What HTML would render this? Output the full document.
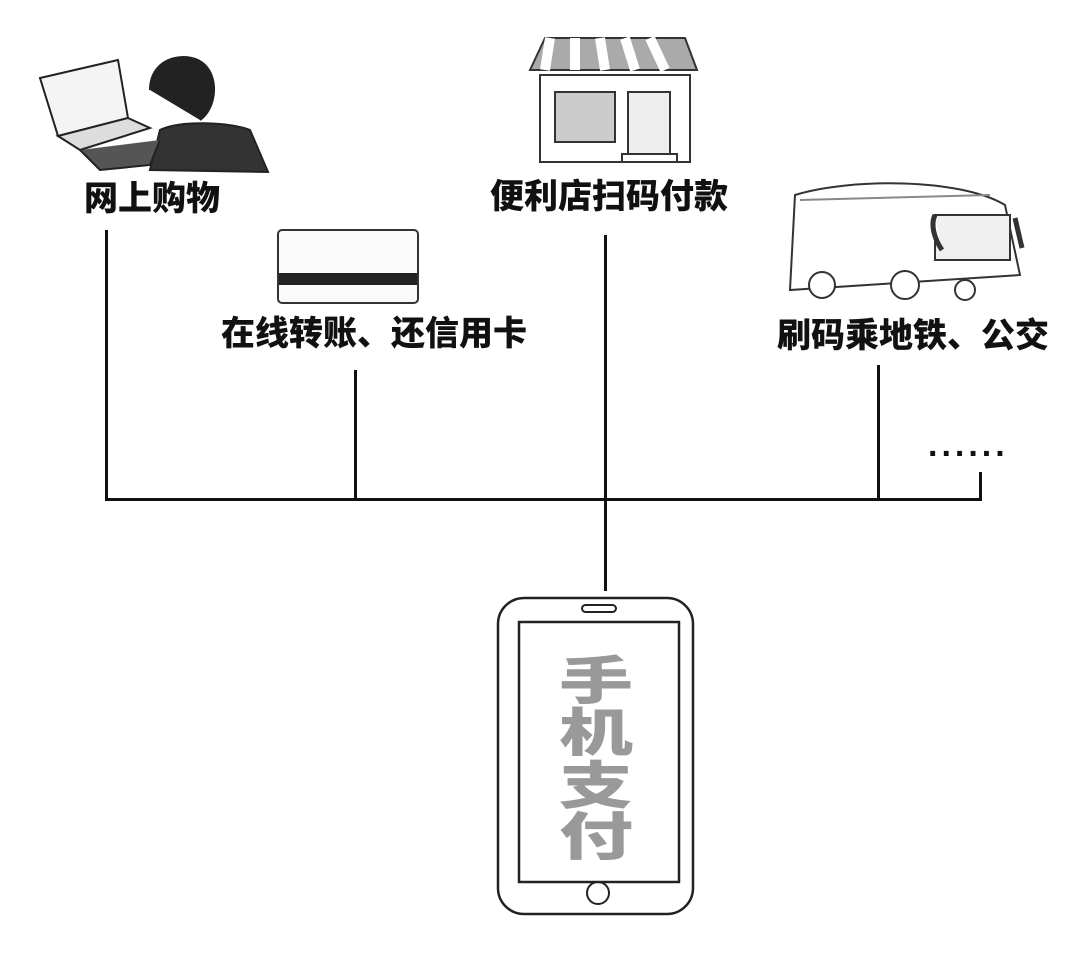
<!DOCTYPE html>
<html><head><meta charset="utf-8"><style>
body{margin:0;background:#fff;width:1080px;height:960px;position:relative;overflow:hidden;font-family:"Liberation Sans","Noto Sans CJK SC",sans-serif}
.l{position:absolute;font-weight:900;font-size:34px;color:#111;white-space:nowrap;line-height:1}
.v{position:absolute;background:#111;width:3px}
.c{position:absolute;left:558px;width:76px;height:72px;font-size:74px;font-weight:900;color:#999;line-height:72px;text-align:center;transform:scaleY(0.7);transform-origin:top;font-family:'Noto Sans CJK SC',sans-serif}
</style></head><body>
<svg width="1080" height="960" style="position:absolute;left:0;top:0">
<g stroke="#222" stroke-width="2" fill="none">
<polygon points="40,78 118,60 128,118 58,136" fill="#f4f4f4"/>
<polygon points="58,136 128,118 150,128 80,150" fill="#ddd"/>
<path d="M150,90 C150,55 190,50 205,65 C220,80 215,110 200,120" fill="#222"/>
<path d="M150,170 L160,130 C180,120 230,122 250,130 L268,172 Z" fill="#333"/>
<path d="M80,150 L100,170 L150,165 L160,140" fill="#555"/>
</g>
<rect x="278" y="230" width="140" height="73" rx="4" fill="#fafafa" stroke="#333" stroke-width="2"/>
<rect x="279" y="273" width="138" height="12" fill="#222"/>
<g stroke="#333" stroke-width="2">
<rect x="540" y="75" width="150" height="87" fill="#fff"/>
<path d="M530,70 L545,38 L685,38 L697,70 Z" fill="#aaa"/>
<path d="M550,38 L545,70 M575,38 L575,70 M600,38 L605,70 M625,38 L635,70 M650,38 L665,70" stroke="#fff" stroke-width="10"/>
<rect x="555" y="92" width="60" height="50" fill="#ccc"/>
<rect x="628" y="92" width="42" height="62" fill="#eee"/>
<rect x="622" y="154" width="55" height="8" fill="#fff"/>
</g>
<g stroke="#333" stroke-width="2" fill="#fff">
<path d="M795,195 C850,178 960,178 1005,205 L1020,275 L790,290 Z"/>
<path d="M800,200 L990,195" stroke="#888"/>
<rect x="935" y="215" width="75" height="45" fill="#f0f0f0"/>
<circle cx="822" cy="285" r="13"/><circle cx="905" cy="285" r="14"/><circle cx="965" cy="290" r="10"/>
<path d="M935,215 C930,225 935,240 942,250" stroke-width="5"/>
<path d="M1015,218 L1022,248" stroke-width="5"/>
</g>
<rect x="105" y="498" width="877" height="3" fill="#111"/>
<rect x="498" y="598" width="195" height="316" rx="26" fill="#fff" stroke="#222" stroke-width="2.5"/>
<rect x="519" y="622" width="160" height="260" fill="#fff" stroke="#222" stroke-width="2.5"/>
<rect x="582" y="605" width="34" height="7" rx="3.5" fill="none" stroke="#222" stroke-width="2"/>
<circle cx="598" cy="893" r="11" fill="none" stroke="#222" stroke-width="2"/>
</svg>
<div class="v" style="left:105px;top:230px;height:271px"></div>
<div class="v" style="left:354px;top:370px;height:131px"></div>
<div class="v" style="left:604px;top:235px;height:356px"></div>
<div class="v" style="left:877px;top:365px;height:136px"></div>
<div class="v" style="left:979px;top:472px;height:29px"></div>
<div class="l" style="left:84px;top:182px">网上购物</div>
<div class="l" style="left:221px;top:317px">在线转账、还信用卡</div>
<div class="l" style="left:490px;top:180px">便利店扫码付款</div>
<div class="l" style="left:777px;top:319px">刷码乘地铁、公交</div>
<div class="l" style="left:928px;top:428px;letter-spacing:4px">......</div>
<div class="c" style="top:652px">手</div>
<div class="c" style="top:704px">机</div>
<div class="c" style="top:757px">支</div>
<div class="c" style="top:808px">付</div>
</body></html>
